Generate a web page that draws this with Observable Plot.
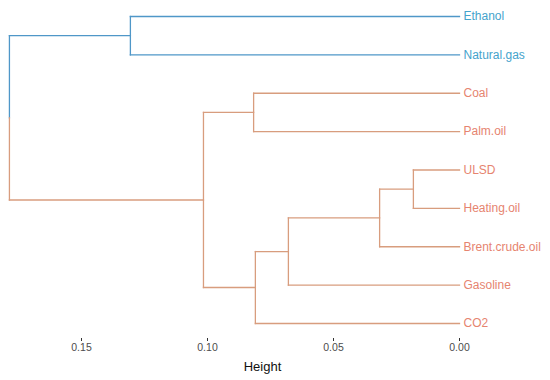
<!DOCTYPE html>
<html>
<head>
<meta charset="utf-8">
<script src="https://cdn.jsdelivr.net/npm/d3@7"></script>
<script src="https://cdn.jsdelivr.net/npm/@observablehq/plot@0.6"></script>
<style>
  body { margin: 0; background: #fff; }
  svg { font-family: "Liberation Sans", Arial, sans-serif; }
</style>
</head>
<body>
<div id="chart"></div>
<script>
// Leaves in display order (top to bottom)
const leaves = ["Ethanol", "Natural.gas", "Coal", "Palm.oil", "ULSD", "Heating.oil", "Brent.crude.oil", "Gasoline", "CO2"];
// Merges: name, left child, right child, height
const mergeNames = ["m1", "m2", "m3", "m4", "m5", "m6", "m7", "m8"];
const mergeLeft  = ["ULSD", "m1", "m2", "m3", "Coal", "m5", "Ethanol", "m7"];
const mergeRight = ["Heating.oil", "Brent.crude.oil", "Gasoline", "CO2", "Palm.oil", "m4", "Natural.gas", "m6"];
const mergeHeight = [0.0183, 0.0317, 0.0679, 0.0810, 0.0817, 0.1016, 0.1306, 0.1786];
// Cluster membership (k = 2)
const clusterA = ["Ethanol", "Natural.gas"];
const xTicks = [0.15, 0.10, 0.05, 0.00];

const lineColor = {A: "#4f97c8", B: "#d89d7e"};
const textColor = {A: "#45a3cc", B: "#e6846f"};

// compute node positions
const pos = {};
leaves.forEach((l, i) => pos[l] = {y: i, h: 0, c: clusterA.includes(l) ? "A" : "B"});
const segs = [];
mergeNames.forEach((n, i) => {
  const a = pos[mergeLeft[i]], b = pos[mergeRight[i]], h = mergeHeight[i];
  const y = (a.y + b.y) / 2;
  const c = a.c === b.c ? a.c : null;
  pos[n] = {y, h, c};
  segs.push({x1: a.h, x2: h, y1: a.y, y2: a.y, c: a.c});
  segs.push({x1: b.h, x2: h, y1: b.y, y2: b.y, c: b.c});
  if (c) {
    segs.push({x1: h, x2: h, y1: a.y, y2: b.y, c});
  } else {
    segs.push({x1: h, x2: h, y1: a.y, y2: y, c: a.c});
    segs.push({x1: h, x2: h, y1: y, y2: b.y, c: b.c});
  }
});
const leafData = leaves.map((l, i) => ({name: l, y: i, c: pos[l].c}));

const chart = Plot.plot({
  width: 550,
  height: 380,
  marginLeft: 0,
  marginRight: 26,
  marginTop: 10,
  marginBottom: 42,
  style: {fontFamily: "Liberation Sans, Arial, sans-serif", background: "#fff"},
  x: {domain: [0.15, 0], range: [81, 459]},
  y: {domain: [0, leaves.length - 1], range: [16, 323], axis: null},
  marks: [
    Plot.link(segs, {
      x1: "x1", x2: "x2", y1: "y1", y2: "y2",
      stroke: d => lineColor[d.c], strokeWidth: 1.3, strokeLinecap: "square"
    }),
    Plot.text(leafData, {
      x: () => 0, y: "y", text: "name", textAnchor: "start", dx: 4,
      fill: d => textColor[d.c], fontSize: 12
    }),
    Plot.axisX({
      ticks: xTicks, tickFormat: d3.format(".2f"), tickSize: 3, tickPadding: 2,
      fontSize: 10.5, color: "#4d4d4d", stroke: "#333", label: null
    }),
    Plot.text(["Height"], {
      frameAnchor: "bottom", dy: 32, text: d => d, fontSize: 13, fill: "#111"
    })
  ]
});
document.getElementById("chart").appendChild(chart);
</script>
</body>
</html>
